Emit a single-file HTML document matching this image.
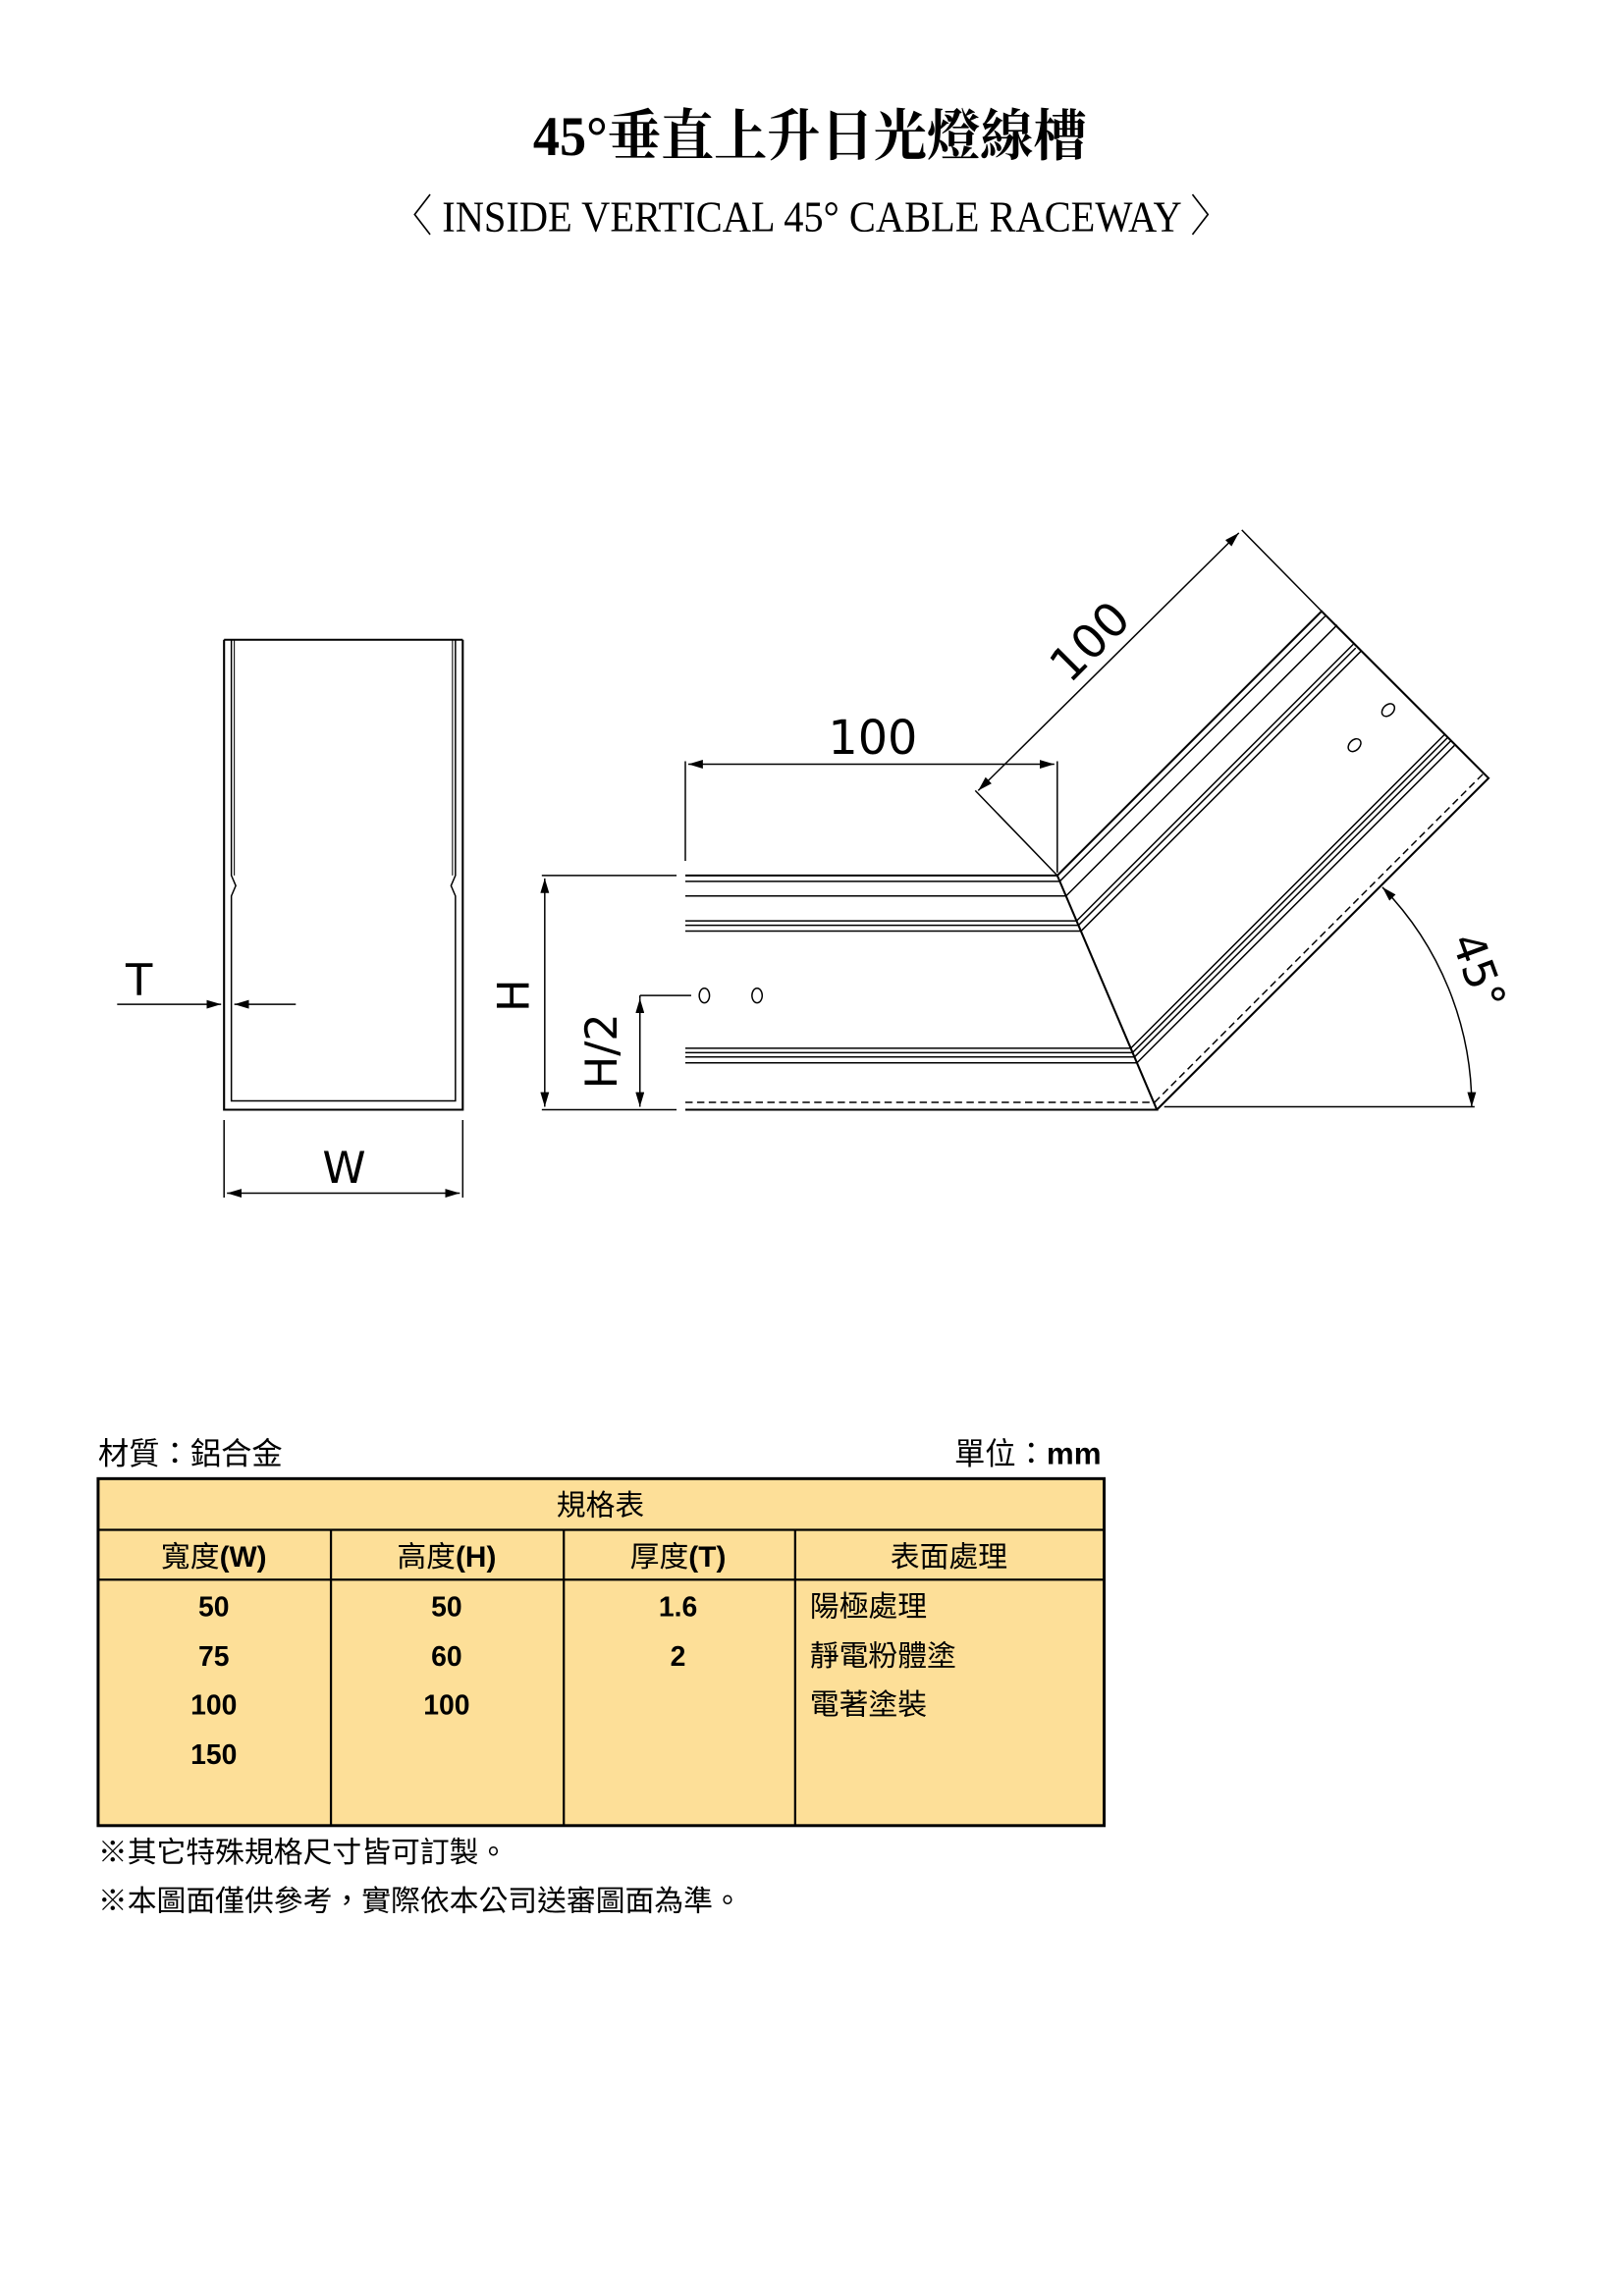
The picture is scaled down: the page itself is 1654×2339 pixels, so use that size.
<!DOCTYPE html>
<html><head><meta charset="utf-8"><style>
html,body{margin:0;padding:0;background:#fff;}
svg{display:block;}
.s{font-family:"Liberation Sans","Noto Sans CJK TC",sans-serif;}
</style></head><body>
<svg width="1654" height="2339" viewBox="0 0 1109 1568.3" xmlns="http://www.w3.org/2000/svg">
<defs>
<marker id="a" viewBox="0 0 10 6" refX="10" refY="3" markerWidth="10" markerHeight="6" orient="auto-start-reverse" markerUnits="userSpaceOnUse">
<path d="M0,0 L10,3 L0,6 z" fill="#000"/></marker>
</defs>
<text x="553" y="106" text-anchor="middle" font-family="'Liberation Serif','Noto Serif CJK SC',serif" font-size="38" font-weight="bold" textLength="378" lengthAdjust="spacingAndGlyphs">45°垂直上升日光燈線槽</text>
<text x="554" y="158" text-anchor="middle" font-family="'Liberation Serif','Noto Serif CJK SC',serif" font-size="30" textLength="572" lengthAdjust="spacingAndGlyphs">〈 INSIDE VERTICAL 45°  CABLE RACEWAY 〉</text>

<g fill="none" stroke="#000" stroke-width="1.4">
<path d="M153,437 V758 H316 V437 M153,437 H316"/>
<path d="M158,437 V598 L161,605 L158,612 V752 H311 V612 L308,605 L311,598 V437" stroke-width="1"/>
<path d="M160,437 V598 M309,437 V598" stroke-width="0.7"/>
<path d="M80,686 H151" marker-end="url(#a)" stroke-width="1"/>
<path d="M202,686 H160" marker-end="url(#a)" stroke-width="1"/>
<path d="M153,765 V818 M316,765 V818" stroke-width="1"/>
<path d="M155,815 H314" marker-start="url(#a)" marker-end="url(#a)" stroke-width="1"/>

<path d="M468,598 H722 L790,758 H468"/>
<path d="M468,602 H724 M468,612 H728 M468,629 H735 M468,632 H736 M468,636 H738 M468,716 H772 M468,719 H773 M468,722 H775 M468,726 H776" stroke-width="1"/>
<path d="M468,753 H788" stroke-dasharray="5,3" stroke-width="1"/>
<path d="M722,598 L902.5,417.5 L1016.5,531.5 L790,758"/>
<path d="M723.7,602 L905.4,420.4 M728,612 L913.1,426.9 M735.2,629 L924.1,440.1 M736.5,632 L925.8,442.6 M738.2,636 L929.6,444.6 M772.2,716 L986.6,501.6 M773.4,719 L988.7,503.7 M774.7,722 L990.9,505.9 M776.4,726 L993.2,509.2" stroke-width="1"/>
<path d="M788.4,753 L1012.7,528.7" stroke-dasharray="5,3" stroke-width="1"/>
<ellipse cx="481" cy="680" rx="3.5" ry="5" stroke-width="1"/>
<ellipse cx="517" cy="680" rx="3.5" ry="5" stroke-width="1"/>
<ellipse cx="948" cy="485" rx="3.5" ry="5" transform="rotate(45 948 485)" stroke-width="1"/>
<ellipse cx="925" cy="509" rx="3.5" ry="5" transform="rotate(45 925 509)" stroke-width="1"/>

<path d="M468,520 V588 M722,520 V596" stroke-width="1"/>
<path d="M470,522 H720" marker-start="url(#a)" marker-end="url(#a)" stroke-width="1"/>
<path d="M666,540 L722,598 M848,362 L905,420" stroke-width="1"/>
<path d="M668,540 L846,364" marker-start="url(#a)" marker-end="url(#a)" stroke-width="1"/>
<path d="M370,598 H462 M370,758 H462" stroke-width="1"/>
<path d="M372,600 V756" marker-start="url(#a)" marker-end="url(#a)" stroke-width="1"/>
<path d="M437,682 V756" marker-start="url(#a)" marker-end="url(#a)" stroke-width="1"/>
<path d="M437,680 V682 M437,680 H472" stroke-width="1"/>
<path d="M795,756 H1007" stroke-width="1"/>
<path d="M944,606 A215,215 0 0 1 1005,756" marker-start="url(#a)" marker-end="url(#a)" stroke-width="1"/>
</g>
<g font-family="'DejaVu Sans','Liberation Sans',sans-serif" font-size="32" fill="#000">
<text x="95" y="680" text-anchor="middle" font-size="30">T</text>
<text x="235" y="808" text-anchor="middle" font-size="30">W</text>
<text x="596" y="515" text-anchor="middle">100</text>
<text x="0" y="0" text-anchor="middle" transform="translate(752,446) rotate(-45)">100</text>
<text x="0" y="0" text-anchor="middle" font-size="30" transform="translate(361,680) rotate(-90)">H</text>
<text x="0" y="0" text-anchor="middle" font-size="30" transform="translate(421,718) rotate(-90)">H/2</text>
<text x="0" y="0" text-anchor="middle" font-size="30" transform="translate(1000,667) rotate(70)">45°</text>
</g>

<g class="s">
<text x="67" y="1000" font-size="21">材質：鋁合金</text>
<text x="752" y="1000" font-size="21" text-anchor="end">單位：<tspan font-weight="bold">mm</tspan></text>
<rect x="67" y="1010" width="687" height="237" fill="#fddf98" stroke="#000" stroke-width="2"/>
<path d="M67,1045 H754 M67,1079 H754 M226,1045 V1247 M385,1045 V1247 M543,1045 V1247" stroke="#000" stroke-width="1.5" fill="none"/>
<g font-size="20" text-anchor="middle">
<text x="410" y="1035">規格表</text>
<text x="146" y="1070">寬度<tspan font-weight="bold">(W)</tspan></text>
<text x="305" y="1070">高度<tspan font-weight="bold">(H)</tspan></text>
<text x="463" y="1070">厚度<tspan font-weight="bold">(T)</tspan></text>
<text x="648" y="1070">表面處理</text>
<g font-weight="bold" font-size="19">
<text x="146" y="1104">50</text><text x="146" y="1138">75</text><text x="146" y="1171">100</text><text x="146" y="1205">150</text>
<text x="305" y="1104">50</text><text x="305" y="1138">60</text><text x="305" y="1171">100</text>
<text x="463" y="1104">1.6</text><text x="463" y="1138">2</text>
</g>
</g>
<g font-size="20">
<text x="553" y="1104">陽極處理</text>
<text x="553" y="1138">靜電粉體塗</text>
<text x="553" y="1171">電著塗裝</text>
<text x="67" y="1272">※其它特殊規格尺寸皆可訂製。</text>
<text x="67" y="1305">※本圖面僅供參考，實際依本公司送審圖面為準。</text>
</g>
</g>
</svg>
</body></html>
